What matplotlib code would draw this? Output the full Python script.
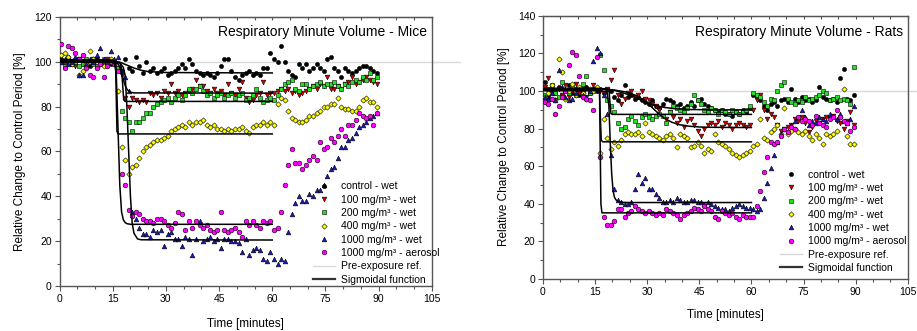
import numpy as np
import matplotlib
matplotlib.use('Agg')
import matplotlib.pyplot as plt
from matplotlib.lines import Line2D
from matplotlib.ticker import MultipleLocator

plt.rcParams['font.family'] = ['Liberation Sans', 'DejaVu Sans']

# sampling times (minutes), one reading per minute
minutes = np.arange(90) + 0.5

labels = ['control - wet', '100 mg/m³ - wet', '200 mg/m³ - wet',
          '400 mg/m³ - wet', '1000 mg/m³ - wet', '1000 mg/m³ - aerosol']

# ---- mice: relative change to control period [%]
mice_control = [101, 100, 102, 99, 100, 101, 99, 100, 98, 100,
                101, 99, 100, 98, 99, 100, 97, 96, 101, 97,
                96, 102, 98, 95, 100, 96, 97, 95, 96, 97,
                94, 95, 96, 97, 99, 97, 101, 99, 96, 95,
                94, 95, 94, 93, 95, 98, 101, 101, 96, 93,
                92, 94, 95, 96, 94, 95, 94, 97, 97, 104,
                101, 100, 107, 100, 96, 94, 93, 99, 97, 99,
                96, 97, 99, 97, 96, 101, 102, 97, 96, 93,
                97, 96, 95, 96, 97, 98, 98, 97, 96, 95]
mice_100 = [100, 99, 101, 100, 98, 101, 100, 99, 100, 101,
            98, 100, 99, 101, 100, 99, 97, 94, 84, 80,
            84, 83, 82, 83, 82, 86, 85, 86, 84, 87,
            86, 90, 86, 87, 85, 86, 87, 88, 92, 89,
            89, 87, 86, 88, 86, 87, 85, 90, 86, 85,
            88, 91, 84, 82, 83, 85, 86, 91, 85, 86,
            86, 87, 88, 87, 88, 86, 87, 85, 86, 87,
            88, 89, 88, 90, 89, 93, 88, 88, 89, 88,
            90, 91, 93, 90, 91, 92, 93, 92, 91, 90]
mice_200 = [100, 98, 101, 99, 100, 98, 99, 101, 100, 99,
            98, 100, 101, 99, 100, 100, 97, 78, 75, 73,
            69, 73, 73, 75, 77, 77, 80, 81, 82, 83,
            84, 82, 84, 85, 83, 85, 88, 86, 88, 89,
            87, 85, 86, 84, 85, 86, 84, 85, 86, 84,
            85, 86, 83, 84, 85, 88, 84, 82, 83, 84,
            83, 85, 88, 90, 91, 92, 88, 87, 90, 90,
            88, 89, 90, 91, 89, 90, 90, 91, 89, 88,
            90, 89, 91, 92, 91, 93, 92, 95, 92, 93]
mice_400 = [103, 104, 102, 99, 101, 94, 96, 99, 105, 101,
            100, 99, 98, 100, 101, 100, 87, 62, 56, 50,
            53, 54, 57, 60, 62, 63, 64, 65, 65, 66,
            67, 69, 70, 71, 72, 71, 73, 72, 73, 73,
            74, 72, 71, 72, 70, 70, 69, 70, 69, 70,
            70, 71, 69, 68, 71, 72, 72, 73, 72, 73,
            72, 81, 84, 83, 78, 75, 74, 73, 73, 74,
            76, 76, 77, 78, 80, 80, 81, 81, 84, 80,
            79, 79, 78, 78, 80, 83, 84, 82, 82, 80]
mice_1000 = [100, 101, 99, 100, 102, 94, 94, 99, 101, 100,
             103, 106, 101, 100, 105, 101, 102, 96, 93, 87,
             33, 30, 26, 23, 23, 22, 25, 24, 25, 18,
             23, 24, 21, 21, 18, 22, 21, 14, 21, 29,
             20, 21, 22, 20, 21, 17, 21, 21, 20, 20,
             19, 15, 21, 14, 16, 17, 16, 12, 11, 15,
             12, 10, 12, 11, 24, 32, 37, 40, 38, 38,
             41, 40, 43, 43, 45, 49, 52, 53, 57, 62,
             62, 65, 66, 68, 71, 72, 73, 75, 76, 77]
mice_aerosol = [108, 97, 107, 106, 104, 101, 103, 97, 94, 93,
                97, 99, 93, 98, 100, 99, 96, 50, 45, 34,
                31, 33, 32, 30, 29, 29, 28, 30, 30, 29,
                27, 26, 28, 33, 32, 25, 29, 26, 29, 27,
                26, 27, 25, 24, 25, 33, 25, 24, 25, 26,
                24, 22, 29, 27, 29, 27, 26, 29, 28, 29,
                25, 26, 33, 45, 54, 61, 55, 55, 52, 54,
                56, 58, 56, 64, 61, 62, 66, 64, 67, 70,
                67, 72, 72, 74, 77, 76, 75, 76, 72, 77]

# mice sigmoidal fits (time, value)
mice_fit_control = ([0, 15, 17, 19, 21, 23, 25, 30, 40, 60],
                    [100.5, 100.3, 99.8, 98.5, 97.2, 96.2, 95.6, 95.2, 95.1, 95])
mice_fit_100 = ([0, 15, 16, 16.5, 17, 17.5, 18, 18.5, 19, 19.5, 20, 21, 60],
                [100.5, 100.4, 99.8, 99, 97.5, 95, 92, 89.5, 87.8, 86.9, 86.4, 86.1, 86])
mice_fit_200 = ([0, 15, 17, 17.5, 17.8, 18.1, 18.5, 60],
                [100, 100, 99.6, 97, 90, 83, 82.3, 82.3])
mice_fit_400 = ([0, 15, 15.8, 16, 16.2, 16.5, 60],
                [101, 100.8, 100, 85, 69, 67.8, 67.8])
mice_fit_1000 = ([0, 15, 17, 18, 18.5, 19, 19.5, 20, 20.5, 21, 22, 23, 60],
                 [100, 100, 99.5, 97.5, 94, 80, 60, 40, 28, 23.5, 21, 20.6, 20.5])
mice_fit_aerosol = ([0, 15, 15.5, 16, 16.5, 17, 17.5, 18, 18.5, 19, 20, 60],
                    [100, 99.8, 99, 95, 70, 45, 33, 29.5, 28.3, 27.8, 27.5, 27.5])

# ---- rats
rat_control = [105, 97, 101, 99, 102, 98, 100, 103, 99, 101,
               98, 100, 102, 99, 101, 100, 101, 99, 101, 100,
               97, 95, 98, 103, 97, 98, 96, 97, 95, 94,
               93, 95, 92, 91, 93, 96, 95, 94, 92, 93,
               91, 92, 94, 92, 95, 96, 93, 92, 91, 90,
               89, 90, 88, 88, 87, 89, 88, 90, 89, 91,
               98, 97, 95, 92, 90, 93, 94, 92, 95, 96,
               94, 101, 96, 94, 97, 95, 96, 94, 95, 102,
               97, 96, 95, 96, 94, 107, 112, 96, 95, 98]
rat_100 = [102, 107, 99, 95, 101, 98, 103, 97, 100, 104,
           99, 101, 97, 100, 103, 101, 100, 99, 101, 106,
           111, 98, 93, 96, 99, 100, 97, 98, 100, 96,
           95, 93, 92, 90, 87, 85, 89, 86, 83, 85,
           81, 84, 85, 82, 79, 76, 80, 82, 83, 82,
           84, 81, 83, 82, 80, 82, 83, 82, 81, 82,
           90, 95, 98, 90, 85, 88, 86, 82, 79, 80,
           81, 82, 85, 84, 86, 83, 78, 81, 84, 83,
           85, 86, 85, 87, 84, 83, 80, 84, 89, 82]
rat_200 = [98, 101, 103, 99, 97, 105, 100, 99, 102, 98,
           101, 104, 108, 99, 100, 101, 119, 111, 95, 92,
           89, 83, 80, 81, 85, 87, 84, 82, 86, 88,
           86, 85, 87, 88, 87, 83, 89, 92, 91, 90,
           89, 91, 93, 98, 95, 93, 90, 89, 91, 90,
           88, 90, 89, 88, 90, 89, 88, 89, 90, 92,
           99, 98, 97, 94, 92, 96, 95, 100, 103, 105,
           96, 94, 93, 95, 94, 97, 95, 96, 97, 98,
           100, 99, 95, 96, 97, 95, 96, 95, 93, 113]
rat_400 = [97, 99, 103, 95, 117, 110, 96, 100, 104, 98,
           102, 99, 96, 101, 100, 102, 67, 85, 75, 69,
           73, 71, 74, 77, 78, 77, 77, 78, 76, 83,
           78, 77, 76, 75, 74, 76, 77, 75, 70, 77,
           76, 75, 70, 71, 73, 71, 67, 69, 68, 77,
           73, 72, 71, 69, 67, 66, 65, 66, 67, 68,
           71, 72, 85, 75, 74, 78, 80, 82, 77, 91,
           77, 79, 80, 78, 77, 79, 76, 74, 77, 75,
           72, 77, 76, 77, 79, 86, 101, 76, 72, 72]
rat_1000 = [97, 96, 99, 95, 111, 102, 97, 95, 96, 99,
            101, 98, 97, 100, 116, 123, 120, 98, 88, 66,
            48, 42, 41, 40, 40, 41, 48, 56, 51, 54,
            48, 48, 45, 43, 41, 41, 42, 41, 43, 42,
            41, 41, 42, 42, 41, 41, 40, 41, 40, 39,
            38, 37, 37, 36, 38, 39, 40, 39, 38, 38,
            37, 36, 37, 43, 51, 59, 66, 73, 77, 80,
            79, 82, 84, 86, 90, 86, 82, 84, 83, 86,
            85, 84, 88, 87, 85, 88, 84, 83, 85, 92]
rat_aerosol = [94, 93, 96, 88, 92, 97, 100, 114, 121, 119,
               108, 97, 96, 95, 90, 118, 65, 33, 29, 29,
               31, 37, 37, 33, 35, 36, 39, 37, 36, 35,
               36, 35, 34, 35, 34, 37, 36, 35, 34, 32,
               34, 35, 36, 38, 37, 36, 39, 37, 36, 33,
               32, 36, 35, 34, 35, 33, 32, 34, 33, 33,
               33, 39, 47, 57, 65, 73, 72, 73, 76, 80,
               78, 81, 80, 86, 84, 85, 84, 82, 87, 83,
               82, 81, 85, 86, 90, 86, 84, 83, 79, 81]

rat_fit_control = ([0, 15, 18, 21, 24, 26, 28, 30, 32, 35, 38, 42, 50, 60],
                   [101.5, 101.5, 101.2, 100.2, 98.5, 97, 95.4, 93.8, 92.5, 91.3, 90.6, 90.2, 90, 90])
rat_fit_100 = ([0, 15, 20, 24, 27, 29, 31, 33, 35, 37, 39, 42, 46, 50, 60],
               [101, 101, 100.7, 99.5, 97.5, 95.3, 92, 88.5, 85.5, 83.5, 82.2, 81.3, 80.8, 80.7, 80.6])
rat_fit_200 = ([0, 15, 19, 19.3, 19.6, 20, 60],
               [101.2, 101.2, 101, 94, 88, 87.6, 87.6])
rat_fit_400 = ([0, 15, 16.3, 16.5, 16.8, 17.2, 60],
               [100.8, 100.8, 100.5, 88, 74, 73, 73])
rat_fit_1000 = ([0, 15, 18.5, 19, 19.4, 19.8, 20.2, 20.6, 21, 21.5, 22, 23, 25, 60],
                [100.5, 100.5, 99.5, 92, 72, 56, 47, 43.5, 42.2, 41.4, 41, 40.8, 40.7, 40.7])
rat_fit_aerosol = ([0, 15, 16.3, 16.5, 16.7, 17, 60],
                   [100.2, 100.2, 99.5, 70, 40, 35.2, 35.2])

# marker, face colour, size
styles = [('o', 'black', 3.0), ('v', '#d00000', 3.4), ('s', '#22e022', 3.0),
          ('D', '#ffff00', 2.7), ('^', '#1a1ab0', 3.4), ('o', '#ff00ff', 3.4)]


def draw(ax, series, fits, ymax, title, title_y, leg_anchor):
    ax.plot([0, 113], [100, 100], color='#d9d9d9', lw=1.0, clip_on=False, zorder=1)
    for vals, (mk, fc, ms) in zip(series, styles):
        ax.plot(minutes, vals, ls='none', marker=mk, mfc=fc, mec='black',
                ms=ms, mew=0.4, zorder=3)
    for fx, fy in fits:
        ax.plot(fx, fy, color='black', lw=1.1, zorder=4)

    ax.set_xlim(0, 105)
    ax.set_ylim(0, ymax)
    ax.xaxis.set_major_locator(MultipleLocator(15))
    ax.xaxis.set_minor_locator(MultipleLocator(5))
    ax.yaxis.set_major_locator(MultipleLocator(20))
    ax.yaxis.set_minor_locator(MultipleLocator(10))
    ax.tick_params(which='major', direction='out', length=3.5, width=0.8,
                   labelsize=7.5, color='#555555', pad=2)
    ax.tick_params(which='minor', direction='out', length=2, width=0.8, color='#555555')
    top = ax.secondary_xaxis('top')
    top.xaxis.set_major_locator(MultipleLocator(5))
    top.tick_params(direction='in', length=2.5, width=0.8, labeltop=False, color='#555555')
    top.spines['top'].set_color('#555555')
    for sp in ax.spines.values():
        sp.set_color('#555555')
        sp.set_linewidth(1.0)

    ax.set_xlabel('Time [minutes]', fontsize=8.5)
    ax.set_ylabel('Relative Change to Control Period [%]', fontsize=8.5)
    ax.text(0.986, title_y, title, transform=ax.transAxes, ha='right', va='center',
            fontsize=10)

    handles = [Line2D([], [], ls='none', marker=mk, mfc=fc, mec='black', ms=ms, mew=0.4)
               for mk, fc, ms in styles]
    handles.append(Line2D([], [], color='#d9d9d9', lw=1.0))
    handles.append(Line2D([], [], color='#333333', lw=1.6))
    ax.legend(handles, labels + ['Pre-exposure ref.', 'Sigmoidal function'],
              loc='lower left', bbox_to_anchor=leg_anchor, frameon=False,
              fontsize=7.5, handlelength=2.1, handletextpad=0.6,
              labelspacing=0.32, borderpad=0, borderaxespad=0)


fig = plt.figure(figsize=(9.17, 3.31), dpi=100)
ax1 = fig.add_axes([0.0649, 0.136, 0.406, 0.813])
ax2 = fig.add_axes([0.592, 0.157, 0.398, 0.795])

draw(ax1, [mice_control, mice_100, mice_200, mice_400, mice_1000, mice_aerosol],
     [mice_fit_control, mice_fit_100, mice_fit_200, mice_fit_400, mice_fit_1000, mice_fit_aerosol],
     120, 'Respiratory Minute Volume - Mice', 0.944, (0.681, 0.005))
draw(ax2, [rat_control, rat_100, rat_200, rat_400, rat_1000, rat_aerosol],
     [rat_fit_control, rat_fit_100, rat_fit_200, rat_fit_400, rat_fit_1000, rat_fit_aerosol],
     140, 'Respiratory Minute Volume - Rats', 0.939, (0.649, 0.023))

ax1.xaxis.set_label_coords(0.5, -0.119)
ax1.yaxis.set_label_coords(-0.091, 0.498)
ax2.xaxis.set_label_coords(0.5, -0.114)
ax2.yaxis.set_label_coords(-0.090, 0.502)

fig.savefig('out.png', dpi=100)
